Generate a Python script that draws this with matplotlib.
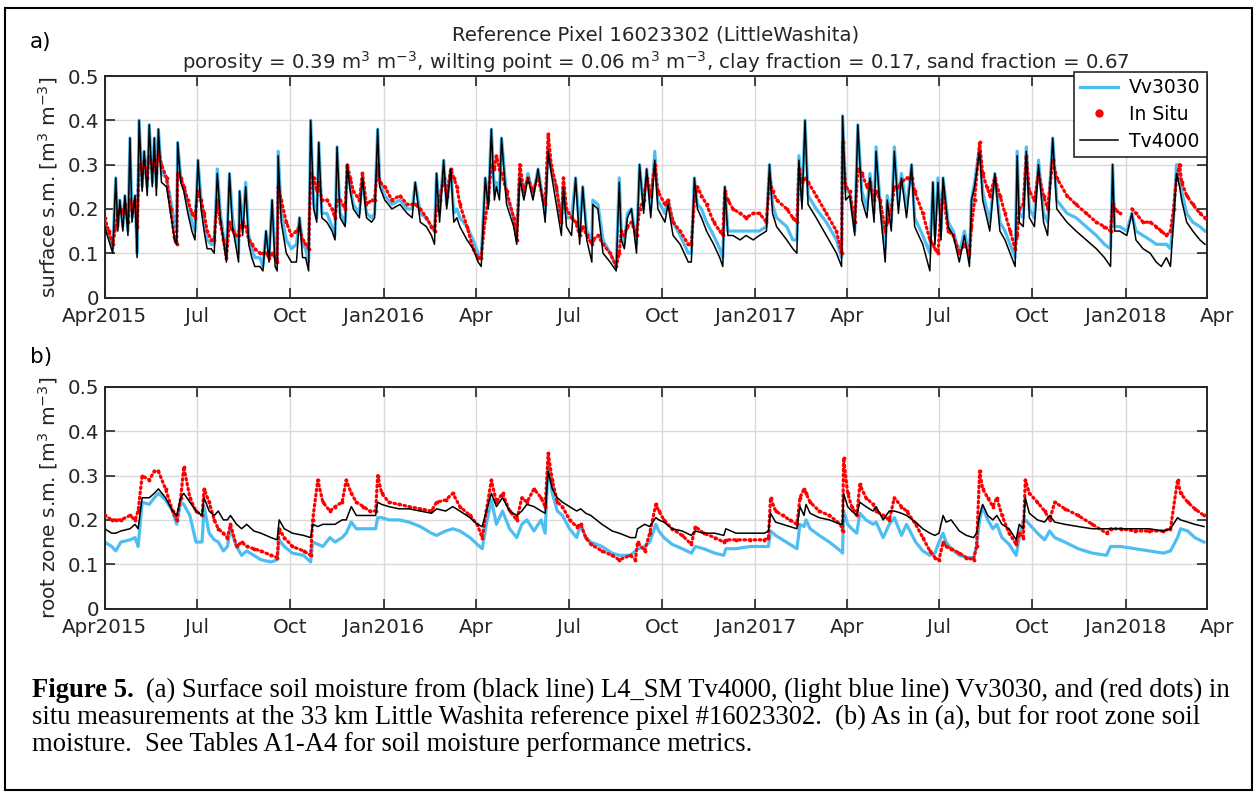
import numpy as np
import matplotlib
matplotlib.use('Agg')
import matplotlib.pyplot as plt
from matplotlib.lines import Line2D
from matplotlib.patches import Rectangle

nan = np.nan
# ---------------- data (days since 2015-04-01) ----------------
surf_days = [0, 4, 8, 11, 13, 15, 18, 20, 23, 25, 27, 30, 32, 34, 37, 39, 42, 44, 47, 49, 51, 53, 56, 61, 65, 69, 71, 72,
             75, 78, 82, 86, 89, 92, 95, 98, 101, 105, 108, 111, 114, 117, 120, 123, 126, 129, 132, 133, 136, 139, 142,
             145, 148, 153, 156, 159, 162, 165, 168, 170, 171, 174, 179, 184, 189, 192, 195, 198, 201, 203, 206, 209,
             211, 214, 219, 224, 227, 229, 232, 237, 239, 242, 245, 251, 254, 258, 263, 266, 269, 271, 276, 283, 291,
             298, 303, 306, 311, 317, 322, 325, 327, 330, 334, 337, 341, 344, 347, 350, 357, 363, 368, 371, 375, 378,
             381, 384, 386, 389, 391, 396, 403, 406, 409, 413, 417, 422, 427, 432, 434, 437, 440, 445, 450, 452, 455,
             460, 464, 468, 471, 475, 480, 481, 486, 491, 498, 504, 507, 509, 512, 515, 519, 524, 527, 531, 534, 538,
             542, 545, 552, 555, 560, 567, 575, 578, 581, 584, 588, 593, 600, 606, 609, 611, 614, 619, 626, 632, 639,
             645, 652, 655, 658, 662, 672, 678, 682, 684, 687, 690, 693, 701, 711, 721, 726, 727, 730, 734, 739, 742,
             746, 751, 754, 758, 760, 764, 769, 771, 775, 778, 782, 785, 790, 795, 798, 806, 813, 816, 818, 821, 824,
             826, 831, 836, 842, 847, 852, 854, 857, 862, 865, 869, 872, 877, 882, 887, 892, 897, 899, 901, 905, 908,
             911, 916, 920, 925, 929, 934, 938, 948, 957, 967, 977, 985, 991, 993, 995, 1000, 1007, 1012, 1016, 1023,
             1030, 1036, 1041, 1046, 1050, 1053, 1056, 1059, 1061, 1066, 1072, 1079, 1084]
surf_tv4000 = [0.16, 0.13, 0.10, 0.27, 0.15, 0.22, 0.15, 0.23, 0.14, 0.36, 0.17, 0.23, 0.09, 0.40, 0.24, 0.33, 0.23, 0.39,
               0.25, 0.36, 0.23, 0.38, 0.26, 0.25, 0.19, 0.13, 0.12, 0.35, 0.26, 0.24, 0.19, 0.15, 0.13, 0.31, 0.20, 0.15,
               0.11, 0.11, 0.10, 0.28, 0.18, 0.13, 0.08, 0.28, 0.16, 0.12, 0.08, 0.24, 0.14, 0.25, 0.12, 0.09, 0.07, 0.07,
               0.06, 0.15, 0.08, 0.22, 0.07, 0.06, 0.32, 0.17, 0.10, 0.08, 0.08, 0.18, 0.09, 0.09, 0.06, 0.40, 0.20, 0.17,
               0.35, 0.18, 0.17, 0.15, 0.13, 0.34, 0.18, 0.16, 0.30, 0.24, 0.20, 0.18, 0.27, 0.18, 0.17, 0.18, 0.38, 0.25,
               0.22, 0.20, 0.21, 0.19, 0.18, 0.26, 0.17, 0.16, 0.14, 0.12, 0.28, 0.17, 0.31, 0.20, 0.29, 0.17, 0.18, 0.16,
               0.13, 0.11, 0.08, 0.07, 0.27, 0.20, 0.38, 0.22, 0.25, 0.22, 0.36, 0.21, 0.16, 0.12, 0.27, 0.22, 0.27, 0.22,
               0.29, 0.21, 0.17, 0.33, 0.28, 0.21, 0.14, 0.25, 0.16, 0.14, 0.27, 0.12, 0.25, 0.13, 0.08, 0.21, 0.20, 0.10,
               0.08, 0.06, 0.26, 0.13, 0.11, 0.18, 0.20, 0.10, 0.30, 0.19, 0.29, 0.18, 0.31, 0.20, 0.17, 0.21, 0.14, 0.12,
               0.08, 0.08, 0.27, 0.20, 0.18, 0.15, 0.12, 0.09, 0.07, 0.25, 0.14, 0.14, 0.13, 0.14, 0.13, 0.14, 0.15, 0.30,
               0.19, 0.16, 0.13, 0.11, 0.10, 0.31, 0.20, 0.40, 0.21, 0.18, 0.14, 0.10, 0.07, 0.41, 0.22, 0.23, 0.14, 0.39,
               0.22, 0.18, 0.27, 0.17, 0.33, 0.20, 0.08, 0.22, 0.15, 0.33, 0.19, 0.27, 0.18, 0.30, 0.16, 0.12, 0.06, 0.26,
               0.12, 0.26, 0.13, 0.27, 0.16, 0.14, 0.08, 0.14, 0.07, 0.22, 0.25, 0.33, 0.22, 0.18, 0.15, 0.28, 0.15, 0.13,
               0.10, 0.07, 0.32, 0.17, 0.16, 0.33, 0.18, 0.16, 0.30, 0.17, 0.14, 0.36, 0.20, 0.17, 0.15, 0.13, 0.11, 0.09,
               0.07, 0.30, 0.15, 0.15, 0.14, 0.19, 0.13, 0.11, 0.10, 0.08, 0.07, 0.09, 0.07, 0.17, 0.28, 0.25, 0.22, 0.17,
               0.15, 0.13, 0.12]
surf_vv3030 = [0.17, 0.14, 0.11, 0.27, 0.16, 0.22, 0.16, 0.23, 0.15, 0.36, 0.18, 0.23, 0.10, 0.40, 0.25, 0.33, 0.25, 0.39,
               0.26, 0.36, 0.25, 0.38, 0.28, 0.27, 0.22, 0.17, 0.15, 0.35, 0.27, 0.25, 0.21, 0.17, 0.15, 0.31, 0.22, 0.17,
               0.13, 0.12, 0.12, 0.29, 0.19, 0.14, 0.10, 0.28, 0.18, 0.14, 0.10, 0.24, 0.16, 0.26, 0.14, 0.11, 0.09, 0.09,
               0.07, 0.15, 0.09, 0.22, 0.09, 0.08, 0.33, 0.19, 0.13, 0.11, 0.12, 0.18, 0.12, 0.11, 0.08, 0.40, 0.21, 0.18,
               0.35, 0.19, 0.19, 0.16, 0.14, 0.34, 0.19, 0.17, 0.30, 0.25, 0.21, 0.19, 0.27, 0.19, 0.18, 0.19, 0.38, 0.26,
               0.23, 0.21, 0.22, 0.20, 0.20, 0.26, 0.19, 0.18, 0.16, 0.15, 0.28, 0.19, 0.31, 0.21, 0.29, 0.19, 0.20, 0.18,
               0.16, 0.13, 0.10, 0.09, 0.27, 0.21, 0.38, 0.24, 0.26, 0.24, 0.36, 0.23, 0.18, 0.14, 0.28, 0.23, 0.28, 0.23,
               0.29, 0.22, 0.19, 0.34, 0.29, 0.25, 0.17, 0.26, 0.18, 0.18, 0.27, 0.15, 0.25, 0.15, 0.13, 0.22, 0.21, 0.13,
               0.10, 0.07, 0.27, 0.15, 0.12, 0.19, 0.20, 0.12, 0.30, 0.20, 0.29, 0.20, 0.33, 0.22, 0.19, 0.22, 0.17, 0.14,
               0.10, 0.10, 0.27, 0.21, 0.20, 0.17, 0.14, 0.11, 0.09, 0.25, 0.15, 0.15, 0.15, 0.15, 0.15, 0.15, 0.16, 0.30,
               0.21, 0.18, 0.16, 0.13, 0.13, 0.32, 0.22, 0.40, 0.23, 0.20, 0.17, 0.13, 0.09, 0.41, 0.24, 0.24, 0.15, 0.39,
               0.24, 0.20, 0.28, 0.19, 0.34, 0.21, 0.11, 0.23, 0.17, 0.34, 0.21, 0.28, 0.20, 0.30, 0.18, 0.14, 0.10, 0.26,
               0.14, 0.27, 0.15, 0.27, 0.17, 0.15, 0.10, 0.15, 0.09, 0.22, 0.26, 0.34, 0.24, 0.20, 0.17, 0.28, 0.17, 0.15,
               0.12, 0.09, 0.33, 0.19, 0.18, 0.34, 0.20, 0.18, 0.31, 0.19, 0.17, 0.36, 0.22, 0.19, 0.18, 0.16, 0.14, 0.12,
               0.11, 0.30, 0.16, 0.16, 0.15, 0.19, 0.15, 0.14, 0.13, 0.12, 0.12, 0.12, 0.11, 0.18, 0.30, 0.27, 0.24, 0.19,
               0.17, 0.16, 0.15]
surf_insitu = [0.18, 0.15, 0.12, 0.16, 0.19, 0.20, 0.19, 0.21, 0.17, 0.22, 0.20, 0.22, 0.16, 0.30, 0.28, 0.31, 0.27, 0.32,
               0.29, 0.31, 0.28, 0.33, 0.30, 0.27, 0.20, 0.13, 0.12, 0.28, 0.27, 0.25, 0.22, 0.19, 0.18, 0.24, 0.22, 0.19,
               0.15, 0.13, 0.13, 0.22, 0.17, 0.13, 0.09, 0.17, 0.15, 0.14, 0.14, 0.16, 0.17, 0.16, 0.13, 0.12, 0.11, 0.10,
               0.10, 0.10, 0.09, 0.10, 0.09, 0.08, 0.25, 0.22, 0.17, 0.14, 0.15, 0.16, 0.13, 0.12, 0.11, 0.28, 0.27, 0.24,
               0.26, 0.22, 0.22, 0.20, 0.18, 0.22, 0.22, 0.20, 0.30, 0.27, 0.24, 0.22, 0.28, 0.21, 0.22, 0.22, 0.30, 0.26,
               0.25, 0.22, 0.23, 0.21, 0.21, 0.21, 0.20, 0.18, 0.16, 0.15, 0.20, 0.22, 0.27, 0.23, 0.29, 0.27, 0.25, 0.21,
               0.16, 0.11, 0.09, 0.09, 0.18, 0.22, 0.30, 0.29, 0.32, 0.29, 0.28, 0.24, 0.18, 0.13, 0.30, 0.24, 0.27, 0.24,
               0.27, 0.22, 0.21, 0.37, 0.30, 0.25, 0.17, 0.27, 0.20, 0.18, 0.17, 0.14, 0.16, 0.14, 0.12, 0.13, 0.14, 0.12,
               0.10, 0.07, 0.10, 0.15, 0.14, 0.16, 0.17, 0.14, 0.20, 0.22, 0.27, 0.23, 0.30, 0.24, 0.21, 0.22, 0.17, 0.15,
               0.12, 0.12, 0.22, 0.25, 0.23, 0.21, 0.17, 0.15, 0.14, 0.24, 0.22, 0.20, 0.19, 0.18, 0.19, 0.19, 0.17, 0.27,
               0.24, 0.22, 0.20, 0.18, 0.17, 0.29, 0.26, 0.27, 0.26, 0.23, 0.19, 0.15, 0.10, 0.35, 0.25, 0.24, 0.17, 0.29,
               0.28, 0.25, 0.26, 0.22, 0.24, 0.22, 0.15, 0.17, 0.20, 0.25, 0.25, 0.26, 0.27, 0.27, 0.24, 0.19, 0.13, 0.12,
               0.11, 0.10, 0.20, 0.24, 0.15, 0.14, 0.10, 0.12, 0.10, 0.16, 0.22, 0.35, 0.28, 0.25, 0.23, 0.27, 0.23, 0.19,
               0.15, 0.11, 0.14, 0.20, 0.21, 0.32, 0.24, 0.22, 0.28, 0.23, 0.20, 0.31, 0.27, 0.23, 0.21, 0.19, 0.17, 0.16,
               0.15, 0.21, 0.20, 0.19, nan, 0.20, 0.19, 0.17, 0.17, 0.16, 0.15, 0.14, 0.15, 0.20, 0.27, 0.30, 0.26, 0.23,
               0.21, 0.19, 0.18]

root_days = [0, 7, 11, 16, 25, 30, 33, 37, 44, 49, 53, 60, 67, 71, 75, 78, 84, 90, 96, 98, 103, 108, 112, 117, 121, 124,
             130, 135, 140, 147, 154, 164, 170, 172, 177, 185, 196, 203, 205, 210, 215, 222, 227, 234, 238, 243, 248, 255,
             261, 267, 269, 273, 280, 290, 300, 311, 322, 327, 336, 343, 350, 360, 367, 372, 376, 381, 386, 392, 399,
             406, 411, 416, 423, 430, 434, 437, 441, 446, 451, 458, 465, 469, 474, 479, 490, 500, 507, 518, 523, 525,
             532, 537, 543, 546, 551, 559, 569, 578, 582, 590, 601, 610, 612, 622, 636, 650, 654, 656, 661, 668, 675,
             682, 685, 689, 691, 695, 704, 714, 725, 727, 728, 732, 736, 741, 744, 750, 757, 760, 767, 773, 778, 785,
             790, 799, 806, 813, 818, 822, 826, 829, 834, 842, 849, 856, 859, 862, 865, 870, 875, 879, 884, 891, 898,
             901, 905, 907, 911, 919, 926, 931, 936, 946, 959, 973, 987, 991, 1001, 1015, 1029, 1043, 1050, 1057, 1060,
             1067, 1074, 1083]
root_tv4000 = [0.18, 0.17, 0.17, 0.175, 0.18, 0.19, 0.18, 0.25, 0.25, 0.26, 0.27, 0.25, 0.22, 0.21, 0.25, 0.26, 0.24,
               0.22, 0.21, 0.25, 0.22, 0.21, 0.22, 0.20, 0.20, 0.21, 0.19, 0.18, 0.19, 0.175, 0.17, 0.16, 0.155, 0.20,
               0.18, 0.17, 0.165, 0.16, 0.19, 0.185, 0.19, 0.19, 0.19, 0.20, 0.20, 0.23, 0.21, 0.21, 0.21, 0.21, 0.24,
               0.235, 0.23, 0.225, 0.225, 0.22, 0.215, 0.225, 0.22, 0.23, 0.22, 0.205, 0.19, 0.185, 0.22, 0.26, 0.23,
               0.25, 0.22, 0.21, 0.22, 0.235, 0.23, 0.22, 0.215, 0.31, 0.27, 0.25, 0.24, 0.23, 0.22, 0.225, 0.215, 0.21,
               0.19, 0.175, 0.17, 0.16, 0.16, 0.18, 0.19, 0.185, 0.205, 0.20, 0.195, 0.18, 0.175, 0.165, 0.175, 0.17,
               0.17, 0.165, 0.18, 0.17, 0.17, 0.17, 0.175, 0.215, 0.195, 0.19, 0.185, 0.18, 0.23, 0.21, 0.235, 0.215,
               0.205, 0.20, 0.19, 0.19, 0.26, 0.23, 0.22, 0.21, 0.24, 0.23, 0.22, 0.23, 0.20, 0.22, 0.22, 0.215, 0.21,
               0.195, 0.18, 0.17, 0.165, 0.17, 0.21, 0.195, 0.20, 0.175, 0.165, 0.16, 0.17, 0.21, 0.235, 0.21, 0.20,
               0.21, 0.19, 0.18, 0.155, 0.19, 0.18, 0.25, 0.215, 0.20, 0.195, 0.21, 0.195, 0.19, 0.185, 0.18, 0.18,
               0.18, 0.18, 0.18, 0.18, 0.175, 0.18, 0.205, 0.20, 0.195, 0.19, 0.185]
root_vv3030 = [0.15, 0.14, 0.13, 0.15, 0.155, 0.16, 0.14, 0.24, 0.235, 0.25, 0.26, 0.245, 0.22, 0.19, 0.24, 0.235, 0.21,
               0.15, 0.15, 0.23, 0.17, 0.155, 0.15, 0.13, 0.14, 0.18, 0.14, 0.12, 0.13, 0.12, 0.11, 0.105, 0.11, 0.155,
               0.14, 0.125, 0.12, 0.105, 0.15, 0.145, 0.14, 0.16, 0.15, 0.16, 0.17, 0.195, 0.18, 0.18, 0.18, 0.18, 0.205,
               0.205, 0.20, 0.20, 0.195, 0.185, 0.17, 0.165, 0.175, 0.18, 0.175, 0.16, 0.145, 0.135, 0.19, 0.245, 0.19,
               0.22, 0.18, 0.16, 0.19, 0.20, 0.175, 0.20, 0.17, 0.33, 0.26, 0.22, 0.21, 0.18, 0.16, 0.19, 0.16, 0.15,
               0.14, 0.125, 0.12, 0.12, 0.13, 0.135, 0.14, 0.15, 0.19, 0.175, 0.16, 0.145, 0.135, 0.125, 0.14, 0.135,
               0.125, 0.12, 0.135, 0.135, 0.14, 0.14, 0.14, 0.175, 0.165, 0.155, 0.145, 0.135, 0.19, 0.185, 0.20, 0.18,
               0.165, 0.15, 0.13, 0.125, 0.22, 0.19, 0.18, 0.17, 0.215, 0.20, 0.19, 0.195, 0.16, 0.19, 0.205, 0.165, 0.19,
               0.15, 0.13, 0.12, 0.125, 0.15, 0.17, 0.15, 0.135, 0.12, 0.115, 0.115, 0.14, 0.20, 0.23, 0.20, 0.18, 0.19,
               0.16, 0.145, 0.12, 0.16, 0.20, 0.20, 0.19, 0.17, 0.155, 0.175, 0.16, 0.15, 0.135, 0.125, 0.12, 0.14,
               0.14, 0.135, 0.13, 0.125, 0.13, 0.16, 0.18, 0.175, 0.16, 0.15]
root_insitu = [0.21, 0.20, 0.20, 0.20, 0.21, 0.20, 0.22, 0.30, 0.29, 0.31, 0.31, 0.27, 0.22, 0.20, 0.25, 0.32, 0.25, 0.22,
               0.21, 0.27, 0.24, 0.20, 0.18, 0.17, 0.16, 0.19, 0.14, 0.15, 0.14, 0.135, 0.13, 0.12, 0.115, 0.18, 0.16,
               0.14, 0.13, 0.12, 0.20, 0.29, 0.24, 0.22, 0.23, 0.24, 0.29, 0.26, 0.24, 0.23, 0.22, 0.22, 0.30, 0.26,
               0.24, 0.235, 0.23, 0.225, 0.22, 0.24, 0.245, 0.26, 0.23, 0.21, 0.19, 0.16, 0.22, 0.29, 0.24, 0.26, 0.22,
               0.20, 0.25, 0.24, 0.27, 0.25, 0.23, 0.35, 0.29, 0.24, 0.23, 0.20, 0.185, 0.19, 0.16, 0.145, 0.13, 0.12,
               0.11, 0.12, 0.11, 0.15, 0.13, 0.17, 0.235, 0.22, 0.20, 0.18, 0.165, 0.145, 0.185, 0.17, 0.16, 0.15,
               0.155, 0.155, 0.155, 0.155, 0.16, 0.25, 0.22, 0.21, 0.20, 0.19, 0.25, 0.27, 0.26, 0.24, 0.22, 0.21,
               0.19, 0.175, 0.34, 0.26, 0.23, 0.21, 0.28, 0.25, 0.235, 0.22, 0.21, 0.20, 0.25, 0.23, 0.22, 0.19, 0.16,
               0.13, 0.115, 0.11, 0.15, 0.14, 0.135, 0.125, 0.115, 0.11, 0.14, 0.31, 0.27, 0.25, 0.23, 0.25, 0.21, 0.17,
               0.145, 0.17, 0.16, 0.29, 0.26, 0.24, 0.22, 0.20, 0.24, 0.225, 0.21, 0.19, 0.17, 0.18, 0.18, 0.175,
               0.175, 0.175, 0.18, 0.29, 0.26, 0.24, 0.225, 0.21]

tick_days = [0, 91, 183, 275, 366, 457, 549, 641, 731, 822, 914, 1006]
tick_labels = ['Apr2015', 'Jul', 'Oct', 'Jan2016', 'Apr', 'Jul', 'Oct', 'Jan2017', 'Apr', 'Jul', 'Oct', 'Jan2018']
extra_tick_day, extra_tick_label = 1096, 'Apr'
y_ticks = [0, 0.1, 0.2, 0.3, 0.4, 0.5]
y_tick_labels = ['0', '0.1', '0.2', '0.3', '0.4', '0.5']

title1 = 'Reference Pixel 16023302 (LittleWashita)'
title2 = ('porosity = 0.39 m$^3$ m$^{-3}$, wilting point = 0.06 m$^3$ m$^{-3}$, '
          'clay fraction = 0.17, sand fraction = 0.67')
ylabel_a = 'surface s.m. [m$^3$ m$^{-3}$]'
ylabel_b = 'root zone s.m. [m$^3$ m$^{-3}$]'
caption_bold = 'Figure 5.'
caption_lines = [
    '(a) Surface soil moisture from (black line) L4_SM Tv4000, (light blue line) Vv3030, and (red dots) in',
    'situ measurements at the 33 km Little Washita reference pixel #16023302.  (b) As in (a), but for root zone soil',
    'moisture.  See Tables A1-A4 for soil moisture performance metrics.',
]

# ---------------- style ----------------
BLUE = '#4dbdf2'
RED = '#ff0000'
TXT = '#262626'
W, H = 1257, 794
plt.rcParams['font.family'] = ['DejaVu Sans']
plt.rcParams['mathtext.fontset'] = 'dejavusans'

fig = plt.figure(figsize=(W / 100, H / 100), dpi=100)

def fx(px):
    return px / W

def fy(py):
    return 1 - py / H

x0, x1 = 104.6, 1207
ax_a = fig.add_axes([fx(x0), fy(297.5), fx(x1 - x0), (297.5 - 76) / H])
ax_b = fig.add_axes([fx(x0), fy(608.5), fx(x1 - x0), (608.5 - 387) / H])

TICK_FS = 14.3
XPAD = 7

def draw(ax, days, tv, vv, ins, ylabel):
    ax.plot(days, vv, color=BLUE, lw=2.3, zorder=2, solid_joinstyle='round')
    ax.plot(days, ins, color=RED, lw=2.3, ls=(0, (0.5, 1.1)), dash_capstyle='round', zorder=3)
    ax.plot(days, ins, color=RED, lw=0, marker='.', markersize=3.5, zorder=3)
    ax.plot(days, tv, color='black', lw=1.1, zorder=4)
    ax.set_xlim(0, 1086)
    ax.set_ylim(0, 0.5)
    ax.set_xticks(tick_days)
    ax.set_xticklabels(tick_labels)
    ax.set_yticks(y_ticks)
    ax.set_yticklabels(y_tick_labels)
    ax.grid(True, color='#d9d9d9', lw=1.0)
    ax.set_axisbelow(True)
    ax.tick_params(direction='in', length=7, width=1.2, top=True, right=True,
                   labelsize=TICK_FS, colors=TXT)
    ax.tick_params(axis='x', pad=XPAD)
    ax.tick_params(axis='y', pad=4)
    for sp in ax.spines.values():
        sp.set_linewidth(1.4)
        sp.set_color(TXT)
    ax.set_ylabel(ylabel, fontsize=14.5, color=TXT, labelpad=5)
    ax.annotate(extra_tick_label, xy=(extra_tick_day, 0), xycoords=('data', 'axes fraction'),
                xytext=(0, -XPAD), textcoords='offset points', ha='center', va='top',
                fontsize=TICK_FS, color=TXT, annotation_clip=False)

draw(ax_a, surf_days, surf_tv4000, surf_vv3030, surf_insitu, ylabel_a)
draw(ax_b, root_days, root_tv4000, root_vv3030, root_insitu, ylabel_b)

handles = [Line2D([], [], color=BLUE, lw=2.3),
           Line2D([], [], color=RED, ls='none', marker='.', markersize=10),
           Line2D([], [], color='black', lw=1.1)]
leg = ax_a.legend(handles, ['Vv3030', 'In Situ', 'Tv4000'], loc='upper right',
                  bbox_to_anchor=(1.0, 1.02), borderaxespad=0, fontsize=13.5,
                  frameon=True, fancybox=False, handlelength=2.0, handletextpad=0.6,
                  labelspacing=0.42, borderpad=0.35, framealpha=1)
leg.get_frame().set_edgecolor(TXT)
leg.get_frame().set_linewidth(1.2)
leg.set_zorder(10)

fig.text(fx(656), fy(35), title1, ha='center', va='center', fontsize=14.2, color=TXT)
fig.text(fx(656), fy(62), title2, ha='center', va='center', fontsize=14.2, color=TXT)
fig.text(fx(30), fy(42), 'a)', ha='left', va='center', fontsize=15.5)
fig.text(fx(30), fy(357), 'b)', ha='left', va='center', fontsize=15.5)

# outer frame
fig.add_artist(Rectangle((fx(5), fy(790)), fx(1247), (790 - 8) / H, transform=fig.transFigure,
                         fill=False, edgecolor='black', lw=1.5))

# caption
cap_fs = 19.2
serif = ['Liberation Serif', 'DejaVu Serif']
base_y = [697, 724, 751]
tb = fig.text(fx(32), fy(base_y[0]), caption_bold, fontweight='bold', family=serif,
              fontsize=cap_fs, va='baseline', ha='left')
fig.canvas.draw()
bb = tb.get_window_extent()
fig.text((bb.x1 + 12) / W, fy(base_y[0]), caption_lines[0], family=serif, fontsize=cap_fs,
         va='baseline', ha='left')
fig.text(fx(32), fy(base_y[1]), caption_lines[1], family=serif, fontsize=cap_fs, va='baseline', ha='left')
fig.text(fx(32), fy(base_y[2]), caption_lines[2], family=serif, fontsize=cap_fs, va='baseline', ha='left')

fig.savefig('out.png', dpi=100)
